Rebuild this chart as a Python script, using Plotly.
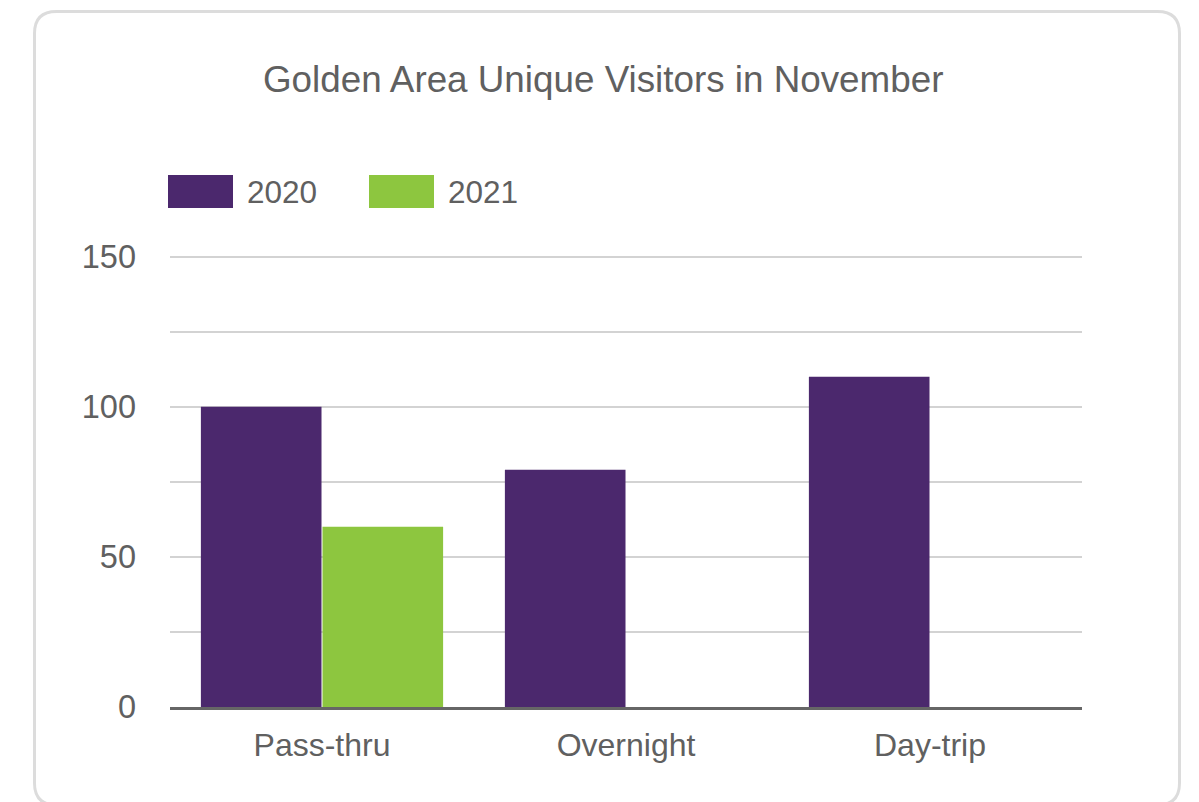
import plotly.graph_objects as go

# Chart data
categories = ["Pass-thru", "Overnight", "Day-trip"]
years = ["2020", "2021"]
visitors_2020 = [100, 79, 110]
visitors_2021 = [60, None, None]
y_tick_values = [0, 50, 100, 150]

PURPLE = "#4B286D"
GREEN = "#8DC63F"
TEXT = "#606060"
GRID = "#D3D3D3"
AXIS = "#666666"
FONT = "Liberation Sans, Arial, sans-serif"

W, H = 1199, 802
L, R, T, B = 170, 117, 255, 95
PW, PH = W - L - R, H - T - B


def px(x):
    return (x - L) / PW


def py(y):
    return (H - B - y) / PH


fig = go.Figure()
fig.add_trace(go.Bar(x=categories, y=visitors_2020, name=years[0],
                     marker=dict(color=PURPLE, line=dict(width=0))))
fig.add_trace(go.Bar(x=categories, y=visitors_2021, name=years[1],
                     marker=dict(color=GREEN, line=dict(width=0))))

# Rounded card outline around the whole chart (bottom edge runs off the page)
cx0, cy0, cx1, cy1, rad = 34.5, 11.5, 1179.5, 805, 22
rx, ry = rad / PW, rad / PH
X0, X1 = px(cx0), px(cx1)
Y0, Y1 = py(cy0), py(cy1)  # Y0 top, Y1 bottom
card_path = (
    f"M {X0 + rx},{Y0} L {X1 - rx},{Y0} Q {X1},{Y0} {X1},{Y0 - ry} "
    f"L {X1},{Y1 + ry} Q {X1},{Y1} {X1 - rx},{Y1} "
    f"L {X0 + rx},{Y1} Q {X0},{Y1} {X0},{Y1 + ry} "
    f"L {X0},{Y0 - ry} Q {X0},{Y0} {X0 + rx},{Y0} Z"
)
shapes = [dict(type="path", path=card_path, xref="paper", yref="paper",
               line=dict(color="#DCDCDC", width=3), layer="below")]

# Legend: wide colour swatches with year labels
annotations = []
legend_items = [(years[0], PURPLE, 168), (years[1], GREEN, 369)]
for label, color, sx in legend_items:
    shapes.append(dict(type="rect", xref="paper", yref="paper",
                       x0=px(sx), x1=px(sx + 65), y0=py(208), y1=py(175),
                       fillcolor=color, line=dict(width=0)))
    annotations.append(dict(text=label, xref="paper", yref="paper",
                            x=px(sx + 77), y=py(191.5), xanchor="left",
                            yanchor="middle", showarrow=False,
                            font=dict(size=31.5, color=TEXT, family=FONT)))

# Title
annotations.append(dict(text="Golden Area Unique Visitors in November",
                        xref="paper", yref="paper", x=px(602.5), y=py(80),
                        xanchor="center", yanchor="middle", showarrow=False,
                        font=dict(size=36.8, color=TEXT, family=FONT)))

fig.update_layout(
    width=W, height=H,
    margin=dict(l=L, r=R, t=T, b=B, pad=0),
    paper_bgcolor="white", plot_bgcolor="white",
    barmode="group", bargap=0.2, bargroupgap=0.008,
    showlegend=False,
    font=dict(family=FONT, color=TEXT, size=31.5),
    shapes=shapes, annotations=annotations,
    xaxis=dict(showline=True, linecolor=AXIS, linewidth=2.5, ticks="",
               showgrid=False, ticklabelstandoff=8,
               tickfont=dict(size=32, color=TEXT, family=FONT)),
    yaxis=dict(range=[0, 150.5], tickvals=y_tick_values, showgrid=True,
               gridcolor=GRID, gridwidth=2, zeroline=False, ticks="",
               ticklabelstandoff=33,
               minor=dict(dtick=25, showgrid=True, gridcolor=GRID, gridwidth=2),
               tickfont=dict(size=32.5, color=TEXT, family=FONT)),
)

fig.write_html("out.html")
